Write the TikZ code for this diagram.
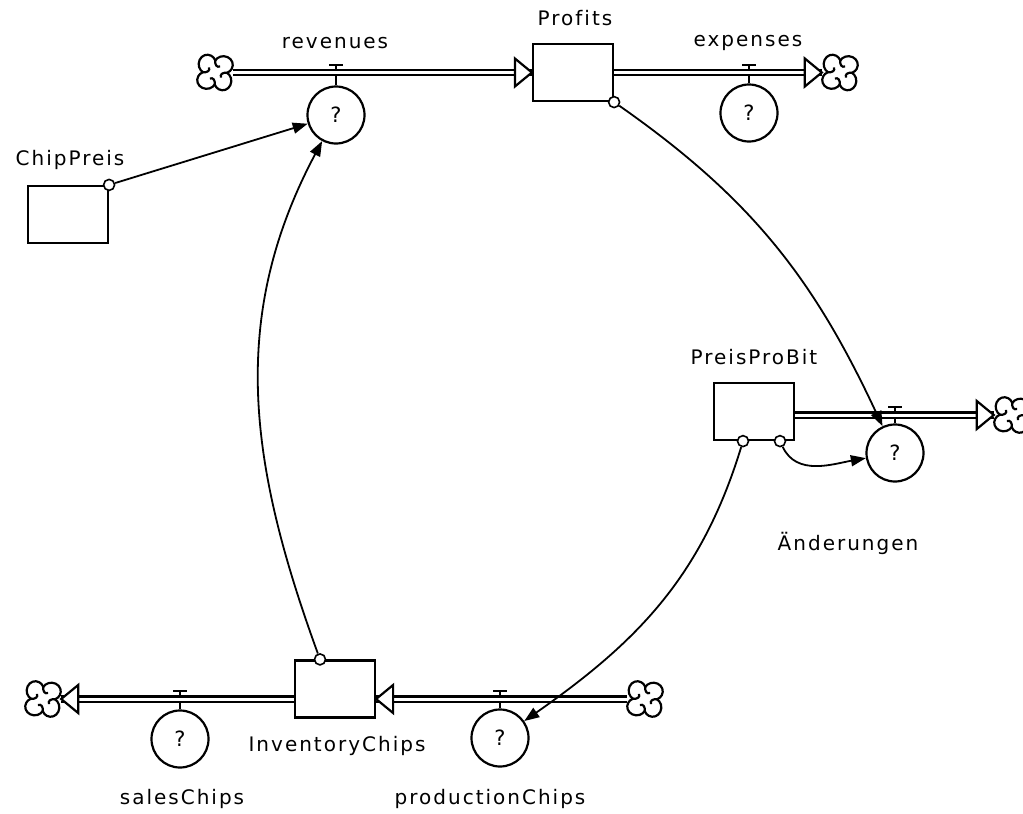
\documentclass[tikz,border=0pt]{standalone}
\usepackage{fontspec}
\newfontfamily\stellafont[LetterSpace=10, Ligatures=CommonOff]{DejaVu Sans}
\usetikzlibrary{arrows.meta}
\tikzset{>=latex}
\tikzset{
  stock/.style={draw, line width=2.2pt, minimum width=80pt, minimum height=57pt, inner sep=0pt},
  valve/.style={draw, circle, line width=2.2pt, minimum size=57pt, inner sep=0pt,
    font=\stellafont\fontsize{21}{21}\selectfont},
  lbl/.style={font=\stellafont\fontsize{20}{20}\selectfont, inner sep=0pt},
  pipe/.style={line width=2.2pt, double, double distance=3pt},
  stem/.style={line width=2.2pt},
  link/.style={line width=1.8pt, -{Triangle[length=15pt,width=11pt]}},
  tap/.style={draw, circle, line width=1.6pt, fill=white, minimum size=11pt, inner sep=0pt},
  puffspot/.style={minimum width=36pt, minimum height=32pt, inner sep=0pt},
  flowtip/.pic={
    \draw[line width=2.2pt, fill=white, line join=miter] (0,0) -- (-17,14) -- (-17,-14) -- cycle;
  },
  puff/.pic={
    \foreach \r in {0,90,180,270}
      \draw[line width=2.2pt, rotate=\r, yscale=0.92] (0,12.6) arc[start angle=153, end angle=-63, radius=9.4]
        .. controls (7,0) and (5,-2) .. (6,-5.5);
  }
}

\begin{document}
\begin{tikzpicture}[x=1pt, y=1pt]
  \useasboundingbox (0,0) rectangle (1023,-814);

  % stocks
  \node[stock] (profits) at (573,-72.5) {};
  \node[stock] (chip) at (68,-214.5) {};
  \node[stock] (ppb) at (754,-411.5) {};
  \node[stock] (inv) at (335,-689) {};

  % sources and sinks
  \node[puffspot] (cRev) at (215,-72.5) {};
  \node[puffspot] (cExp) at (840,-72.5) {};
  \node[puffspot] (cChg) at (1012,-415) {};
  \node[puffspot] (cSal) at (43,-699) {};
  \node[puffspot] (cPro) at (645,-699) {};
  \foreach \c in {cRev,cExp,cChg,cSal,cPro}
    \pic at (\c) {puff};

  % valves
  \node[valve] (rev) at (336,-115) {?};
  \node[valve] (exp) at (749,-113) {?};
  \node[valve] (chg) at (895,-453) {?};
  \node[valve] (sal) at (180,-739) {?};
  \node[valve] (pro) at (500,-738) {?};
  \foreach \v/\ty in {rev/65, exp/65, chg/407, sal/691, pro/691}
    \draw[stem] (\v.north) -- (\v.north |- 0,-\ty) +(-7,0) -- +(7,0);

  % flows
  \draw[pipe] (cRev.east) -- (profits.west);
  \pic at (profits.west) {flowtip};
  \draw[pipe] (profits.east) -- (cExp.west);
  \pic at (cExp.west) {flowtip};
  \draw[pipe] (ppb.east |- cChg) -- (cChg.west);
  \pic at (cChg.west) {flowtip};
  \draw[pipe] (inv.west |- cSal) -- (cSal.east);
  \pic[rotate=180] at (cSal.east) {flowtip};
  \draw[pipe] (cPro.west) -- (inv.east |- cPro);
  \pic[rotate=180] at (inv.east |- cPro) {flowtip};

  % labels
  \node[lbl] (lProfits) at (575,-18) {Profits};
  \node[lbl] (lChip) at (70,-160) {ChipPreis};
  \node[lbl] (lPpb) at (754,-357) {PreisProBit};
  \node[lbl] (lInv) at (337,-746) {InventoryChips};
  \node[lbl] (lRev) at (335,-43) {revenues};
  \node[lbl] (lExp) at (748,-43) {expenses};
  \node[lbl] (lChg) at (848,-543) {Änderungen};
  \node[lbl] (lSal) at (182,-799) {salesChips};
  \node[lbl] (lPro) at (490,-799) {productionChips};

  % connectors
  \node[tap] (tChip) at (chip.north east) {};
  \node[tap] (tProf) at (profits.south east) {};
  \node[tap] (tPpbA) at ([xshift=-11pt]ppb.south) {};
  \node[tap] (tPpbB) at ([xshift=26pt]ppb.south) {};
  \node[tap] (tInv) at ([xshift=-15pt]inv.north) {};

  \draw[link] (tChip) -- (rev);
  \draw[link] (tProf) to[out=-35, in=115] (chg);
  \draw[link] (tPpbB) to[out=-65, in=190] (chg);
  \draw[link] (tPpbA) to[out=-107, in=35] (pro);
  \draw[link] (tInv) to[out=110, in=-118] (rev);
\end{tikzpicture}
\end{document}
